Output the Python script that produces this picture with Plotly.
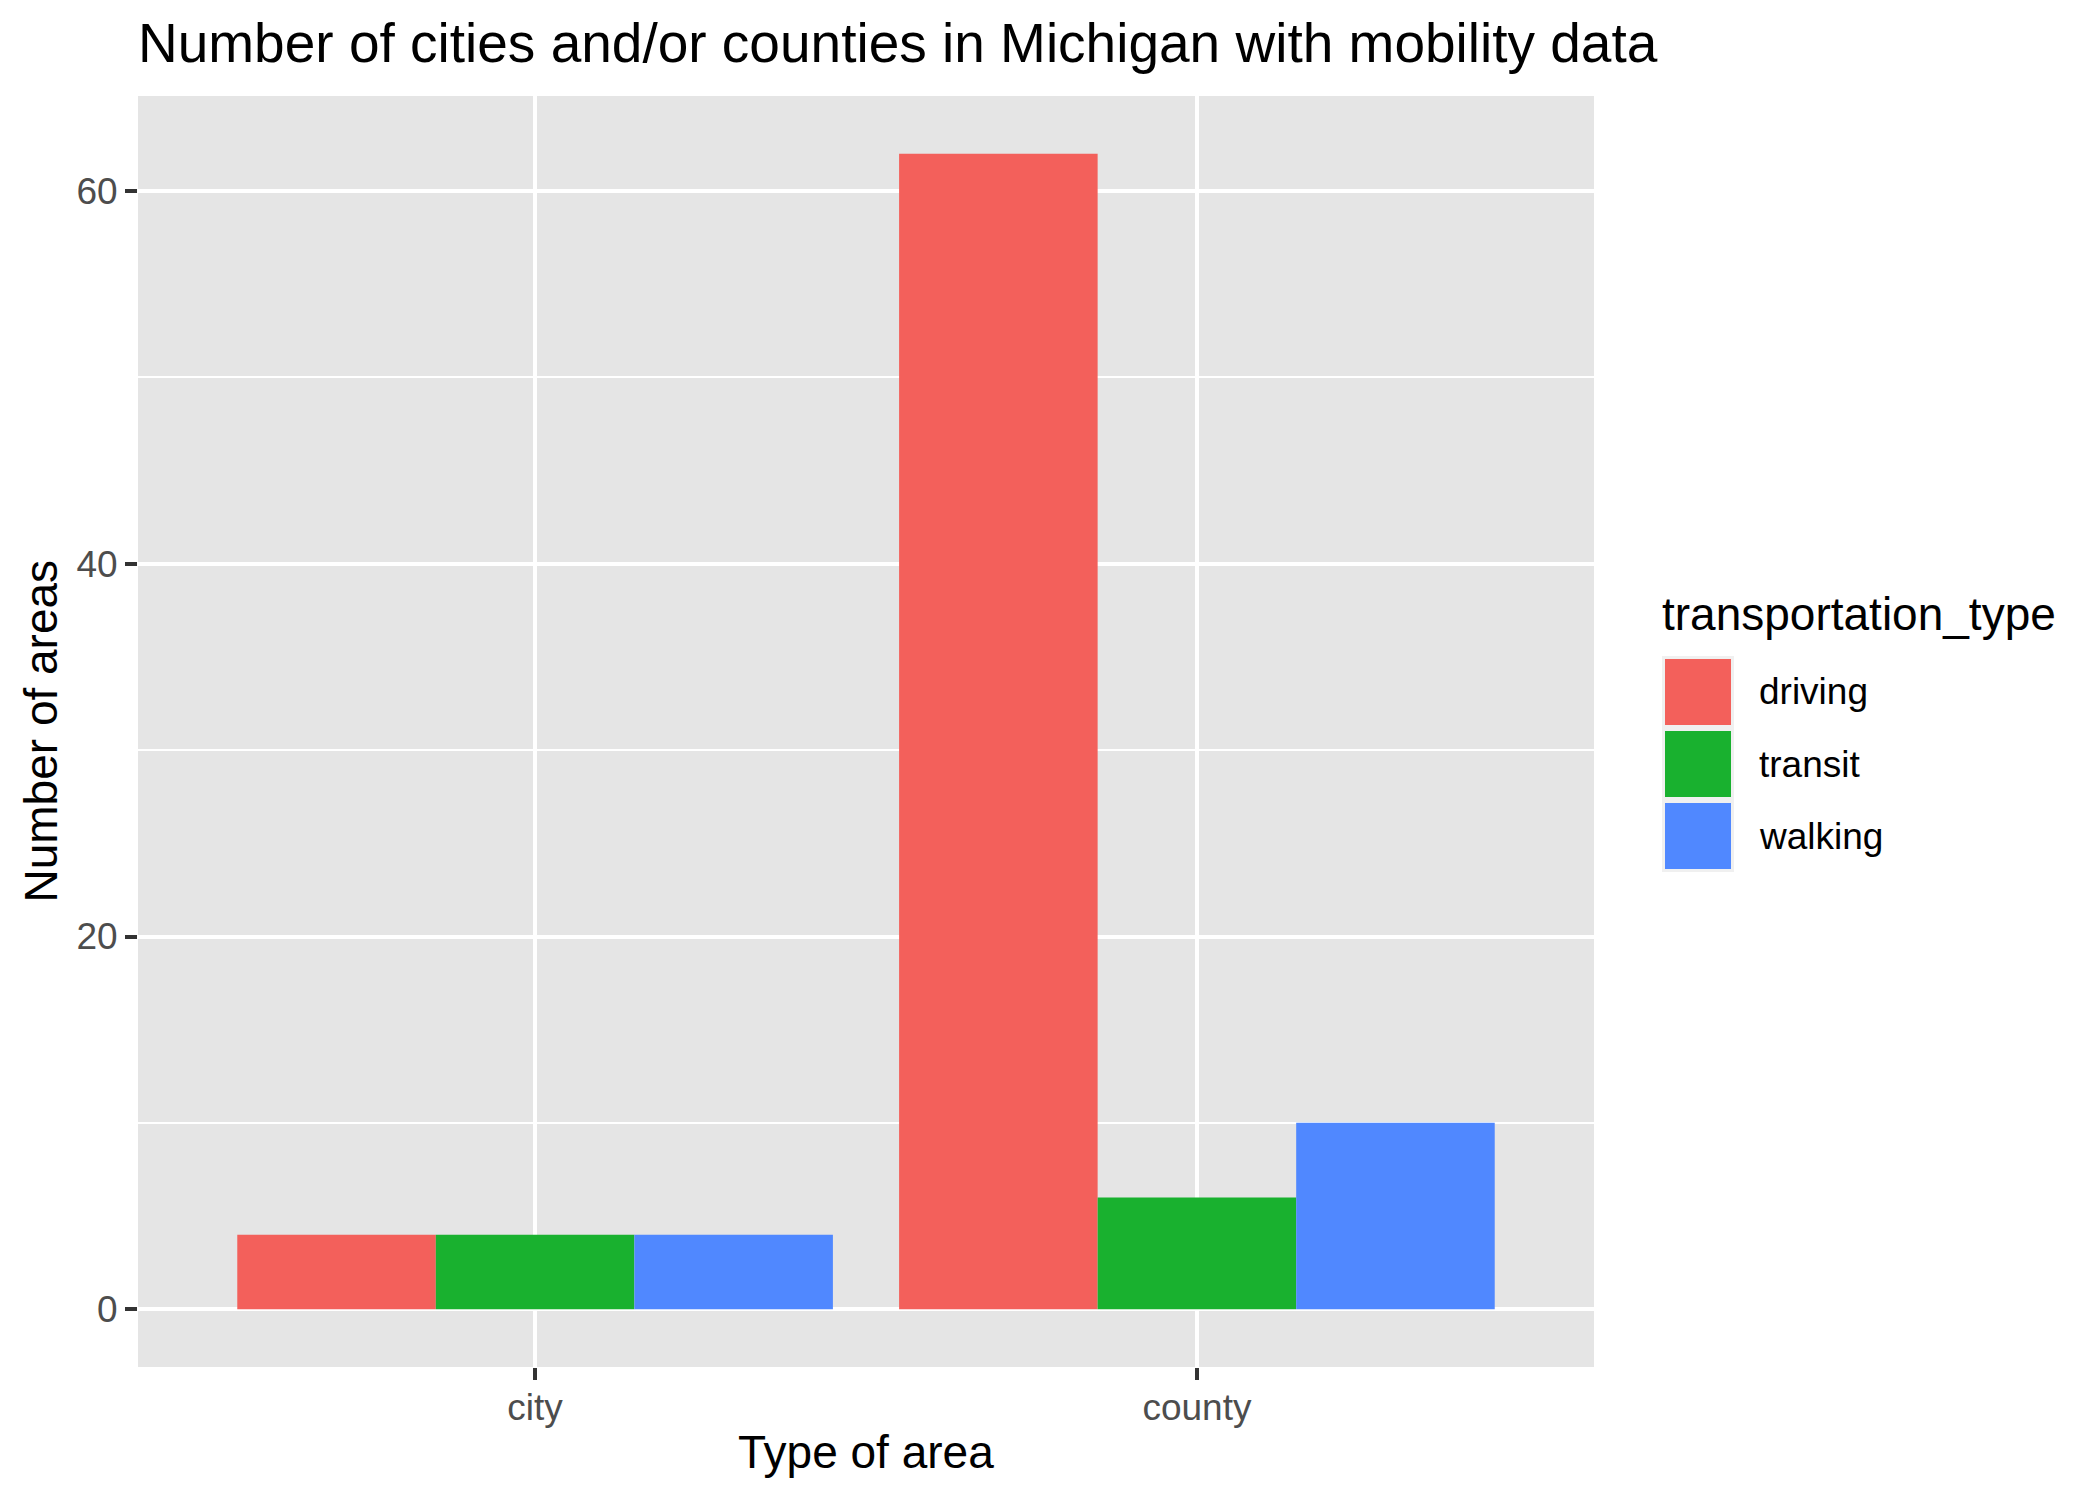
import plotly.graph_objects as go

# ---- data ----
area_types = ["city", "county"]
transport_types = ["driving", "transit", "walking"]
driving = [4, 62]
transit = [4, 6]
walking = [4, 10]
series_values = [driving, transit, walking]
colors = ["#F3605B", "#19B12F", "#5088FF"]
y_ticks = [0, 20, 40, 60]

# page is rendered with an 8px body margin; work in page pixels and shift
OFF = 8
PAGE_W, PAGE_H = 2099, 1499
W, H = PAGE_W - OFF, PAGE_H - OFF
L, R, T, B = 138 - OFF, 1594 - OFF, 96 - OFF, 1367 - OFF
PW, PH = R - L, B - T
FONT = "Liberation Sans, Arial, Helvetica, sans-serif"


def px_x(px):
    return (px - OFF - L) / PW


def px_y(py):
    return (B - (py - OFF)) / PH


fig = go.Figure()
for name, vals, col in zip(transport_types, series_values, colors):
    fig.add_trace(go.Bar(
        x=area_types, y=vals, name=name,
        marker=dict(color=col, line=dict(width=0)),
        showlegend=False,
    ))

# ---- manual ggplot-style legend ----
shapes = []
annotations = []
shapes.append(dict(type="rect", xref="paper", yref="paper",
                   x0=px_x(1662), x1=px_x(1734), y0=px_y(872), y1=px_y(656),
                   fillcolor="#F0F0F0", line=dict(width=0), layer="above"))
key_tops = [659, 731, 803]
for name, col, top in zip(transport_types, colors, key_tops):
    shapes.append(dict(type="rect", xref="paper", yref="paper",
                       x0=px_x(1665), x1=px_x(1731), y0=px_y(top + 66), y1=px_y(top),
                       fillcolor=col, line=dict(width=0), layer="above"))
    annotations.append(dict(text=name, xref="paper", yref="paper",
                            x=px_x(1757), y=px_y(top + 33), xanchor="left", yanchor="middle",
                            showarrow=False, font=dict(family=FONT, size=37, color="#000000")))
annotations.append(dict(text="transportation_type", xref="paper", yref="paper",
                        x=px_x(1660), y=px_y(614), xanchor="left", yanchor="middle",
                        showarrow=False, font=dict(family=FONT, size=46, color="#000000")))

# axis titles
annotations.append(dict(text="Type of area", xref="paper", yref="paper",
                        x=0.5, y=px_y(1452), xanchor="center", yanchor="middle",
                        showarrow=False, font=dict(family=FONT, size=46, color="#000000")))
annotations.append(dict(text="Number of areas", xref="paper", yref="paper",
                        x=px_x(40), y=0.5, xanchor="center", yanchor="middle", textangle=-90,
                        showarrow=False, font=dict(family=FONT, size=46, color="#000000")))

fig.update_layout(
    width=W, height=H,
    margin=dict(l=L, r=W - R, t=T, b=H - B, pad=0),
    paper_bgcolor="white",
    plot_bgcolor="#E5E5E5",
    barmode="group",
    bargap=0.1,
    bargroupgap=0,
    showlegend=False,
    title=dict(text="Number of cities and/or counties in Michigan with mobility data",
               xref="paper", x=0, xanchor="left",
               yref="container", y=1 - (43 - OFF) / H, yanchor="middle",
               font=dict(family=FONT, size=55, color="#000000")),
    font=dict(family=FONT),
    shapes=shapes,
    annotations=annotations,
)

fig.update_xaxes(
    range=[-0.6, 1.6],
    showgrid=True, gridcolor="white", gridwidth=4,
    ticks="outside", ticklen=12, tickwidth=4, tickcolor="#333333",
    tickfont=dict(family=FONT, size=37, color="#4D4D4D"),
    ticklabelstandoff=-4,
    showline=False, zeroline=False,
)
fig.update_yaxes(
    range=[-3.1, 65.1],
    tickvals=y_ticks,
    showgrid=True, gridcolor="white", gridwidth=4,
    minor=dict(tick0=0, dtick=10, showgrid=True, gridcolor="white", gridwidth=2, ticks=""),
    ticks="outside", ticklen=12, tickwidth=4, tickcolor="#333333",
    tickfont=dict(family=FONT, size=37, color="#4D4D4D"),
    showline=False, zeroline=False,
)

fig.write_html("out.html")
